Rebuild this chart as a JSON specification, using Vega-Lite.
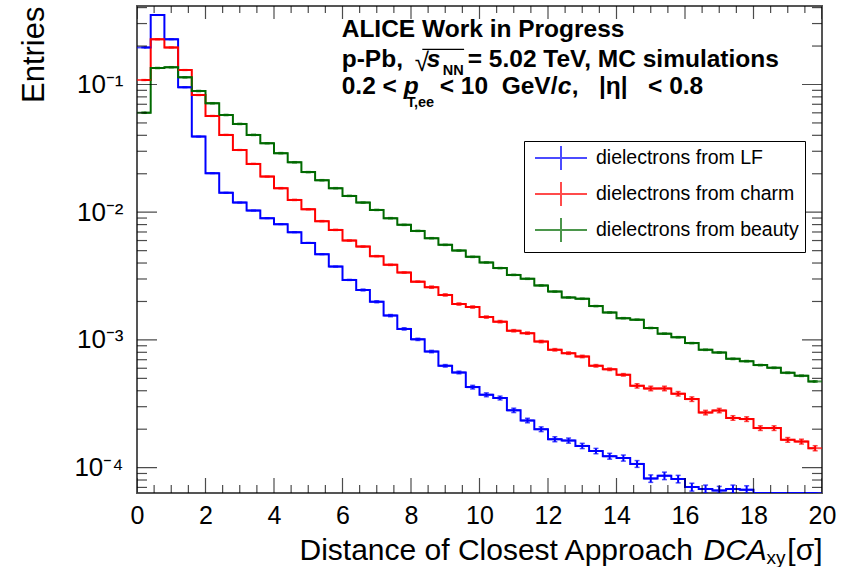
{
  "$schema": "https://vega.github.io/schema/vega-lite/v6.json",
  "width": 685,
  "height": 487,
  "autosize": {"type": "none"},
  "padding": {"left": 137, "top": 6, "right": 30, "bottom": 74},
  "background": "white",
  "config": {
    "view": {"stroke": "#555", "strokeWidth": 2},
    "axis": {"grid": false, "domain": false, "ticks": false, "tickSize": 0, "labelFont": "Liberation Sans", "titleFont": "Liberation Sans", "labelColor": "#000", "titleColor": "#000", "titleFontWeight": "normal", "labelOverlap": false, "labelFlush": false},
    "text": {"font": "Liberation Sans", "color": "#000"}
  },
  "datasets": {
    "xt": [
      {"v":0,"m":1},{"v":0.5,"m":0},{"v":1,"m":0},{"v":1.5,"m":0},{"v":2,"m":1},{"v":2.5,"m":0},{"v":3,"m":0},{"v":3.5,"m":0},{"v":4,"m":1},{"v":4.5,"m":0},
      {"v":5,"m":0},{"v":5.5,"m":0},{"v":6,"m":1},{"v":6.5,"m":0},{"v":7,"m":0},{"v":7.5,"m":0},{"v":8,"m":1},{"v":8.5,"m":0},{"v":9,"m":0},{"v":9.5,"m":0},
      {"v":10,"m":1},{"v":10.5,"m":0},{"v":11,"m":0},{"v":11.5,"m":0},{"v":12,"m":1},{"v":12.5,"m":0},{"v":13,"m":0},{"v":13.5,"m":0},{"v":14,"m":1},{"v":14.5,"m":0},
      {"v":15,"m":0},{"v":15.5,"m":0},{"v":16,"m":1},{"v":16.5,"m":0},{"v":17,"m":0},{"v":17.5,"m":0},{"v":18,"m":1},{"v":18.5,"m":0},{"v":19,"m":0},{"v":19.5,"m":0},{"v":20,"m":1}
    ],
    "yt": [
      {"v":0.00007,"m":0},{"v":0.00008,"m":0},{"v":0.00009,"m":0},{"v":0.0001,"m":1},{"v":0.0002,"m":0},{"v":0.0003,"m":0},{"v":0.0004,"m":0},{"v":0.0005,"m":0},{"v":0.0006,"m":0},{"v":0.0007,"m":0},{"v":0.0008,"m":0},{"v":0.0009,"m":0},
      {"v":0.001,"m":1},{"v":0.002,"m":0},{"v":0.003,"m":0},{"v":0.004,"m":0},{"v":0.005,"m":0},{"v":0.006,"m":0},{"v":0.007,"m":0},{"v":0.008,"m":0},{"v":0.009,"m":0},
      {"v":0.01,"m":1},{"v":0.02,"m":0},{"v":0.03,"m":0},{"v":0.04,"m":0},{"v":0.05,"m":0},{"v":0.06,"m":0},{"v":0.07,"m":0},{"v":0.08,"m":0},{"v":0.09,"m":0},
      {"v":0.1,"m":1},{"v":0.2,"m":0},{"v":0.3,"m":0},{"v":0.4,"m":0}
    ],
    "h": [
      {"s":"LF","x":0.2,"y":0.195,"e":0.001},{"s":"LF","x":0.6,"y":0.35,"e":0.0018},{"s":"LF","x":1.0,"y":0.226,"e":0.0011},{"s":"LF","x":1.4,"y":0.0951,"e":0.0005},{"s":"LF","x":1.8,"y":0.0391,"e":0.0002},
      {"s":"LF","x":2.2,"y":0.0202,"e":0.0001},{"s":"LF","x":2.6,"y":0.0142,"e":0.00008},{"s":"LF","x":3.0,"y":0.0119,"e":0.00007},{"s":"LF","x":3.4,"y":0.0103,"e":0.00006},{"s":"LF","x":3.8,"y":0.00898,"e":0.00005},
      {"s":"LF","x":4.2,"y":0.00806,"e":0.000045},{"s":"LF","x":4.6,"y":0.00697,"e":0.00004},{"s":"LF","x":5.0,"y":0.00575,"e":0.000035},{"s":"LF","x":5.4,"y":0.00469,"e":0.00003},{"s":"LF","x":5.8,"y":0.00375,"e":0.000028},
      {"s":"LF","x":6.2,"y":0.00295,"e":0.000025},{"s":"LF","x":6.6,"y":0.00246,"e":0.00004},{"s":"LF","x":7.0,"y":0.00199,"e":0.000035},{"s":"LF","x":7.4,"y":0.00155,"e":0.00003},{"s":"LF","x":7.8,"y":0.00122,"e":0.000025},
      {"s":"LF","x":8.2,"y":0.00101,"e":0.00002},{"s":"LF","x":8.6,"y":0.000811,"e":0.000017},{"s":"LF","x":9.0,"y":0.000627,"e":0.000014},{"s":"LF","x":9.4,"y":0.000556,"e":0.000013},{"s":"LF","x":9.8,"y":0.000427,"e":0.000014},
      {"s":"LF","x":10.2,"y":0.000372,"e":0.000013},{"s":"LF","x":10.6,"y":0.000351,"e":0.000012},{"s":"LF","x":11.0,"y":0.000281,"e":0.000011},{"s":"LF","x":11.4,"y":0.000234,"e":0.0000095},{"s":"LF","x":11.8,"y":0.0002,"e":0.0000085},
      {"s":"LF","x":12.2,"y":0.000167,"e":0.0000075},{"s":"LF","x":12.6,"y":0.000163,"e":0.0000075},{"s":"LF","x":13.0,"y":0.000148,"e":0.000007},{"s":"LF","x":13.4,"y":0.000135,"e":0.0000065},{"s":"LF","x":13.8,"y":0.000123,"e":0.0000065},
      {"s":"LF","x":14.2,"y":0.000119,"e":0.0000065},{"s":"LF","x":14.6,"y":0.000107,"e":0.0000065},{"s":"LF","x":15.0,"y":0.0000822,"e":0.0000055},{"s":"LF","x":15.4,"y":0.0000864,"e":0.0000058},{"s":"LF","x":15.8,"y":0.0000815,"e":0.0000055},
      {"s":"LF","x":16.2,"y":0.0000705,"e":0.000005},{"s":"LF","x":16.6,"y":0.000068,"e":0.000005},{"s":"LF","x":17.0,"y":0.0000663,"e":0.000005},{"s":"LF","x":17.4,"y":0.000068,"e":0.000005},{"s":"LF","x":17.8,"y":0.0000671,"e":0.000005},
      {"s":"LF","x":18.2,"y":0.00005,"e":0},{"s":"LF","x":18.6,"y":0.00005,"e":0},{"s":"LF","x":19.0,"y":0.00005,"e":0},{"s":"LF","x":19.4,"y":0.00005,"e":0},{"s":"LF","x":19.8,"y":0.00005,"e":0},

      {"s":"charm","x":0.2,"y":0.1084,"e":0.0008},{"s":"charm","x":0.6,"y":0.226,"e":0.0016},{"s":"charm","x":1.0,"y":0.195,"e":0.0014},{"s":"charm","x":1.4,"y":0.1298,"e":0.0009},{"s":"charm","x":1.8,"y":0.0827,"e":0.0006},
      {"s":"charm","x":2.2,"y":0.0567,"e":0.0004},{"s":"charm","x":2.6,"y":0.0403,"e":0.0003},{"s":"charm","x":3.0,"y":0.0307,"e":0.00022},{"s":"charm","x":3.4,"y":0.0239,"e":0.00018},{"s":"charm","x":3.8,"y":0.019,"e":0.00014},
      {"s":"charm","x":4.2,"y":0.01542,"e":0.00015},{"s":"charm","x":4.6,"y":0.01248,"e":0.00012},{"s":"charm","x":5.0,"y":0.01055,"e":0.0001},{"s":"charm","x":5.4,"y":0.00851,"e":0.000085},{"s":"charm","x":5.8,"y":0.00727,"e":0.00007},
      {"s":"charm","x":6.2,"y":0.006,"e":0.00006},{"s":"charm","x":6.6,"y":0.00538,"e":0.000055},{"s":"charm","x":7.0,"y":0.00453,"e":0.000045},{"s":"charm","x":7.4,"y":0.00387,"e":0.00004},{"s":"charm","x":7.8,"y":0.00337,"e":0.000035},
      {"s":"charm","x":8.2,"y":0.00286,"e":0.00003},{"s":"charm","x":8.6,"y":0.00259,"e":0.00005},{"s":"charm","x":9.0,"y":0.00225,"e":0.000045},{"s":"charm","x":9.4,"y":0.00191,"e":0.000038},{"s":"charm","x":9.8,"y":0.00181,"e":0.000036},
      {"s":"charm","x":10.2,"y":0.00151,"e":0.00003},{"s":"charm","x":10.6,"y":0.00139,"e":0.000028},{"s":"charm","x":11.0,"y":0.00118,"e":0.000024},{"s":"charm","x":11.4,"y":0.00113,"e":0.000023},{"s":"charm","x":11.8,"y":0.000971,"e":0.00002},
      {"s":"charm","x":12.2,"y":0.000837,"e":0.000018},{"s":"charm","x":12.6,"y":0.000788,"e":0.000017},{"s":"charm","x":13.0,"y":0.000742,"e":0.000016},{"s":"charm","x":13.4,"y":0.000627,"e":0.000014},{"s":"charm","x":13.8,"y":0.000589,"e":0.000013},
      {"s":"charm","x":14.2,"y":0.000533,"e":0.000012},{"s":"charm","x":14.6,"y":0.000437,"e":0.000017},{"s":"charm","x":15.0,"y":0.000417,"e":0.000017},{"s":"charm","x":15.4,"y":0.000417,"e":0.000017},{"s":"charm","x":15.8,"y":0.000379,"e":0.000015},
      {"s":"charm","x":16.2,"y":0.000344,"e":0.000014},{"s":"charm","x":16.6,"y":0.00027,"e":0.000011},{"s":"charm","x":17.0,"y":0.00028,"e":0.000011},{"s":"charm","x":17.4,"y":0.000245,"e":0.00001},{"s":"charm","x":17.8,"y":0.00024,"e":0.00001},
      {"s":"charm","x":18.2,"y":0.000204,"e":0.0000085},{"s":"charm","x":18.6,"y":0.000204,"e":0.0000085},{"s":"charm","x":19.0,"y":0.000165,"e":0.000007},{"s":"charm","x":19.4,"y":0.00016,"e":0.000007},{"s":"charm","x":19.8,"y":0.000142,"e":0.0000065},

      {"s":"beauty","x":0.2,"y":0.0601,"e":0.0006},{"s":"beauty","x":0.6,"y":0.1346,"e":0.0013},{"s":"beauty","x":1.0,"y":0.1365,"e":0.0013},{"s":"beauty","x":1.4,"y":0.1138,"e":0.0011},{"s":"beauty","x":1.8,"y":0.0889,"e":0.0009},
      {"s":"beauty","x":2.2,"y":0.0713,"e":0.0007},{"s":"beauty","x":2.6,"y":0.0577,"e":0.0006},{"s":"beauty","x":3.0,"y":0.0491,"e":0.0005},{"s":"beauty","x":3.4,"y":0.0403,"e":0.0004},{"s":"beauty","x":3.8,"y":0.0347,"e":0.00035},
      {"s":"beauty","x":4.2,"y":0.029,"e":0.0003},{"s":"beauty","x":4.6,"y":0.0246,"e":0.00025},{"s":"beauty","x":5.0,"y":0.0206,"e":0.0002},{"s":"beauty","x":5.4,"y":0.0178,"e":0.00018},{"s":"beauty","x":5.8,"y":0.01542,"e":0.00015},
      {"s":"beauty","x":6.2,"y":0.01342,"e":0.00013},{"s":"beauty","x":6.6,"y":0.01189,"e":0.00012},{"s":"beauty","x":7.0,"y":0.01042,"e":0.0001},{"s":"beauty","x":7.4,"y":0.00898,"e":0.00009},{"s":"beauty","x":7.8,"y":0.00796,"e":0.00008},
      {"s":"beauty","x":8.2,"y":0.00714,"e":0.00007},{"s":"beauty","x":8.6,"y":0.00626,"e":0.00006},{"s":"beauty","x":9.0,"y":0.00555,"e":0.000055},{"s":"beauty","x":9.4,"y":0.00501,"e":0.00005},{"s":"beauty","x":9.8,"y":0.00447,"e":0.000045},
      {"s":"beauty","x":10.2,"y":0.00404,"e":0.00004},{"s":"beauty","x":10.6,"y":0.00365,"e":0.000037},{"s":"beauty","x":11.0,"y":0.00323,"e":0.000033},{"s":"beauty","x":11.4,"y":0.00301,"e":0.00003},{"s":"beauty","x":11.8,"y":0.00267,"e":0.000027},
      {"s":"beauty","x":12.2,"y":0.00239,"e":0.000024},{"s":"beauty","x":12.6,"y":0.00215,"e":0.000022},{"s":"beauty","x":13.0,"y":0.0021,"e":0.000021},{"s":"beauty","x":13.4,"y":0.00184,"e":0.000019},{"s":"beauty","x":13.8,"y":0.00164,"e":0.000017},
      {"s":"beauty","x":14.2,"y":0.00148,"e":0.000015},{"s":"beauty","x":14.6,"y":0.00144,"e":0.000015},{"s":"beauty","x":15.0,"y":0.00124,"e":0.000013},{"s":"beauty","x":15.4,"y":0.00112,"e":0.000012},{"s":"beauty","x":15.8,"y":0.00105,"e":0.000011},
      {"s":"beauty","x":16.2,"y":0.000944,"e":0.00001},{"s":"beauty","x":16.6,"y":0.000837,"e":0.0000095},{"s":"beauty","x":17.0,"y":0.000797,"e":0.000009},{"s":"beauty","x":17.4,"y":0.000711,"e":0.0000085},{"s":"beauty","x":17.8,"y":0.000682,"e":0.000008},
      {"s":"beauty","x":18.2,"y":0.000635,"e":0.0000075},{"s":"beauty","x":18.6,"y":0.000605,"e":0.0000072},{"s":"beauty","x":19.0,"y":0.000553,"e":0.000007},{"s":"beauty","x":19.4,"y":0.000524,"e":0.0000065},{"s":"beauty","x":19.8,"y":0.000473,"e":0.000006}
    ]
  },
  "data": {"name": "h"},
  "resolve": {"scale": {"x": "shared", "y": "shared", "color": "shared"}, "axis": {"x": "independent", "y": "independent"}},
  "layer": [
    {
      "mark": {"type": "line", "interpolate": "step", "strokeWidth": 2, "clip": true},
      "encoding": {
        "x": {"field": "x", "type": "quantitative",
          "scale": {"domain": [0, 20], "nice": false, "zero": false},
          "axis": {"orient": "bottom", "values": [0,2,4,6,8,10,12,14,16,18,20], "format": "d",
            "labelFontSize": 25, "labelPadding": 10,
            "title": "Distance of Closest Approach", "titleFontSize": 30, "titleX": 162, "titleY": 66, "titleAlign": "left", "titleBaseline": "alphabetic"}},
        "y": {"field": "y", "type": "quantitative",
          "scale": {"type": "log", "domain": [0.0000633, 0.4117], "nice": false, "clamp": true},
          "axis": {"orient": "left", "values": [0.0001, 0.001, 0.01, 0.1],
            "labelExpr": "datum.value == 0.1 ? '10⁻¹' : datum.value == 0.01 ? '10⁻²' : datum.value == 0.001 ? '10⁻³' : '10⁻⁴'",
            "labelFontSize": 26, "labelPadding": 14,
            "title": "Entries", "titleFontSize": 31, "titleAngle": 270, "titleAlign": "right", "titleBaseline": "alphabetic", "titleX": -94, "titleY": 0}},
        "color": {"field": "s", "type": "nominal",
          "scale": {"domain": ["LF", "charm", "beauty"], "range": ["#0000ff", "#ff0000", "#006a00"]},
          "legend": {"orient": "none", "legendX": 387, "legendY": 135, "title": null, "strokeColor": "#000", "fillColor": "#fff", "padding": 6,
            "symbolType": "M-0.6,0H4.6M2,-1.2V1.2", "symbolSize": 400, "symbolStrokeWidth": 2, "labelOffset": 44, "labelLimit": 400,
            "labelFont": "Liberation Sans", "labelFontSize": 19.5, "labelColor": "#000", "rowPadding": 4,
            "labelExpr": "'dielectrons from ' + datum.label"}}
      }
    },
    {
      "mark": {"type": "tick", "orient": "horizontal", "size": 13.7, "thickness": 2, "clip": true},
      "encoding": {
        "x": {"field": "x", "type": "quantitative", "axis": null},
        "y": {"field": "y", "type": "quantitative", "axis": null},
        "color": {"field": "s", "type": "nominal"}
      }
    },
    {
      "mark": {"type": "errorbar", "thickness": 2, "ticks": {"size": 5, "thickness": 1.5}, "clip": true},
      "encoding": {
        "x": {"field": "x", "type": "quantitative", "axis": null},
        "y": {"field": "y", "type": "quantitative", "axis": null},
        "yError": {"field": "e"},
        "color": {"field": "s", "type": "nominal"}
      }
    },
    {
      "data": {"name": "xt"},
      "mark": {"type": "tick", "orient": "vertical", "thickness": 1.2, "color": "#000", "clip": true},
      "encoding": {
        "x": {"field": "v", "type": "quantitative", "axis": null},
        "y": {"datum": 0.0000633, "axis": null},
        "size": {"condition": {"test": "datum.m == 1", "value": 30}, "value": 16}
      }
    },
    {
      "data": {"name": "xt"},
      "mark": {"type": "tick", "orient": "vertical", "thickness": 1.2, "color": "#000", "clip": true},
      "encoding": {
        "x": {"field": "v", "type": "quantitative", "axis": null},
        "y": {"datum": 0.4117, "axis": null},
        "size": {"condition": {"test": "datum.m == 1", "value": 26}, "value": 14}
      }
    },
    {
      "data": {"name": "yt"},
      "mark": {"type": "tick", "orient": "horizontal", "thickness": 1.2, "color": "#000", "clip": true},
      "encoding": {
        "y": {"field": "v", "type": "quantitative", "axis": null},
        "x": {"datum": 0, "axis": null},
        "size": {"condition": {"test": "datum.m == 1", "value": 40}, "value": 20}
      }
    },
    {
      "data": {"name": "yt"},
      "mark": {"type": "tick", "orient": "horizontal", "thickness": 1.2, "color": "#000", "clip": true},
      "encoding": {
        "y": {"field": "v", "type": "quantitative", "axis": null},
        "x": {"datum": 20, "axis": null},
        "size": {"condition": {"test": "datum.m == 1", "value": 40}, "value": 20}
      }
    },
    {
      "data": {"values": []},
      "mark": "point",
      "encoding": {
        "x": {"field": "x", "type": "quantitative",
          "axis": {"orient": "bottom", "labels": false, "title": "DCA", "titleFontStyle": "italic", "titleFontSize": 30, "titleX": 566, "titleY": 66, "titleAlign": "left", "titleBaseline": "alphabetic"}},
        "y": {"field": "y", "type": "quantitative", "axis": null}
      }
    },
    {
      "data": {"values": []},
      "mark": "point",
      "encoding": {
        "x": {"field": "x", "type": "quantitative",
          "axis": {"orient": "bottom", "labels": false, "title": "xy", "titleFontSize": 19, "titleX": 629, "titleY": 70, "titleAlign": "left", "titleBaseline": "alphabetic"}},
        "y": {"field": "y", "type": "quantitative", "axis": null}
      }
    },
    {
      "data": {"values": []},
      "mark": "point",
      "encoding": {
        "x": {"field": "x", "type": "quantitative",
          "axis": {"orient": "bottom", "labels": false, "title": "[σ]", "titleFontSize": 30, "titleX": 685, "titleY": 66, "titleAlign": "right", "titleBaseline": "alphabetic"}},
        "y": {"field": "y", "type": "quantitative", "axis": null}
      }
    },
    {
      "data": {"values": [{}]},
      "mark": {"type": "text", "text": "ALICE Work in Progress", "fontWeight": "bold", "fontSize": 24.5, "align": "left", "baseline": "alphabetic"},
      "encoding": {"x": {"datum": 5.977, "axis": null}, "y": {"datum": 0.2367, "axis": null}}
    },
    {
      "data": {"values": [{}]},
      "mark": {"type": "text", "text": "p-Pb,", "fontWeight": "bold", "fontSize": 24.5, "align": "left", "baseline": "alphabetic"},
      "encoding": {"x": {"datum": 5.977, "axis": null}, "y": {"datum": 0.1378, "axis": null}}
    },
    {
      "data": {"values": [{}]},
      "mark": {"type": "text", "text": "√", "fontWeight": "normal", "fontSize": 26, "align": "left", "baseline": "alphabetic", "dx": 73, "dy": 4},
      "encoding": {"x": {"datum": 5.977, "axis": null}, "y": {"datum": 0.1378, "axis": null}}
    },
    {
      "data": {"values": [{}]},
      "mark": {"type": "rule", "strokeWidth": 1.2, "color": "#000"},
      "encoding": {"x": {"datum": 8.33, "axis": null}, "x2": {"datum": 9.55}, "y": {"datum": 0.1886, "axis": null}}
    },
    {
      "data": {"values": [{}]},
      "mark": {"type": "text", "text": "s", "fontWeight": "bold", "fontStyle": "italic", "fontSize": 24.5, "align": "left", "baseline": "alphabetic", "dx": 85},
      "encoding": {"x": {"datum": 5.977, "axis": null}, "y": {"datum": 0.1378, "axis": null}}
    },
    {
      "data": {"values": [{}]},
      "mark": {"type": "text", "text": "NN", "fontWeight": "bold", "fontSize": 14.5, "align": "left", "baseline": "alphabetic", "dx": 101, "dy": 8},
      "encoding": {"x": {"datum": 5.977, "axis": null}, "y": {"datum": 0.1378, "axis": null}}
    },
    {
      "data": {"values": [{}]},
      "mark": {"type": "text", "text": "= 5.02 TeV, MC simulations", "fontWeight": "bold", "fontSize": 24.5, "align": "left", "baseline": "alphabetic", "dx": 126},
      "encoding": {"x": {"datum": 5.977, "axis": null}, "y": {"datum": 0.1378, "axis": null}}
    },
    {
      "data": {"values": [{}]},
      "mark": {"type": "text", "text": "0.2 <", "fontWeight": "bold", "fontSize": 24.5, "align": "left", "baseline": "alphabetic"},
      "encoding": {"x": {"datum": 5.977, "axis": null}, "y": {"datum": 0.0843, "axis": null}}
    },
    {
      "data": {"values": [{}]},
      "mark": {"type": "text", "text": "p", "fontWeight": "bold", "fontStyle": "italic", "fontSize": 24.5, "align": "left", "baseline": "alphabetic", "dx": 62},
      "encoding": {"x": {"datum": 5.977, "axis": null}, "y": {"datum": 0.0843, "axis": null}}
    },
    {
      "data": {"values": [{}]},
      "mark": {"type": "text", "text": "T,ee", "fontWeight": "bold", "fontSize": 14.5, "align": "left", "baseline": "alphabetic", "dx": 65, "dy": 13},
      "encoding": {"x": {"datum": 5.977, "axis": null}, "y": {"datum": 0.0843, "axis": null}}
    },
    {
      "data": {"values": [{}]},
      "mark": {"type": "text", "text": "< 10\u00a0\u00a0GeV/", "fontWeight": "bold", "fontSize": 24.5, "align": "left", "baseline": "alphabetic", "dx": 98},
      "encoding": {"x": {"datum": 5.977, "axis": null}, "y": {"datum": 0.0843, "axis": null}}
    },
    {
      "data": {"values": [{}]},
      "mark": {"type": "text", "text": "c", "fontWeight": "bold", "fontStyle": "italic", "fontSize": 24.5, "align": "left", "baseline": "alphabetic", "dx": 216},
      "encoding": {"x": {"datum": 5.977, "axis": null}, "y": {"datum": 0.0843, "axis": null}}
    },
    {
      "data": {"values": [{}]},
      "mark": {"type": "text", "text": ",\u00a0\u00a0\u00a0|η|\u00a0\u00a0\u00a0< 0.8", "fontWeight": "bold", "fontSize": 24.5, "align": "left", "baseline": "alphabetic", "dx": 230},
      "encoding": {"x": {"datum": 5.977, "axis": null}, "y": {"datum": 0.0843, "axis": null}}
    }
  ]
}
